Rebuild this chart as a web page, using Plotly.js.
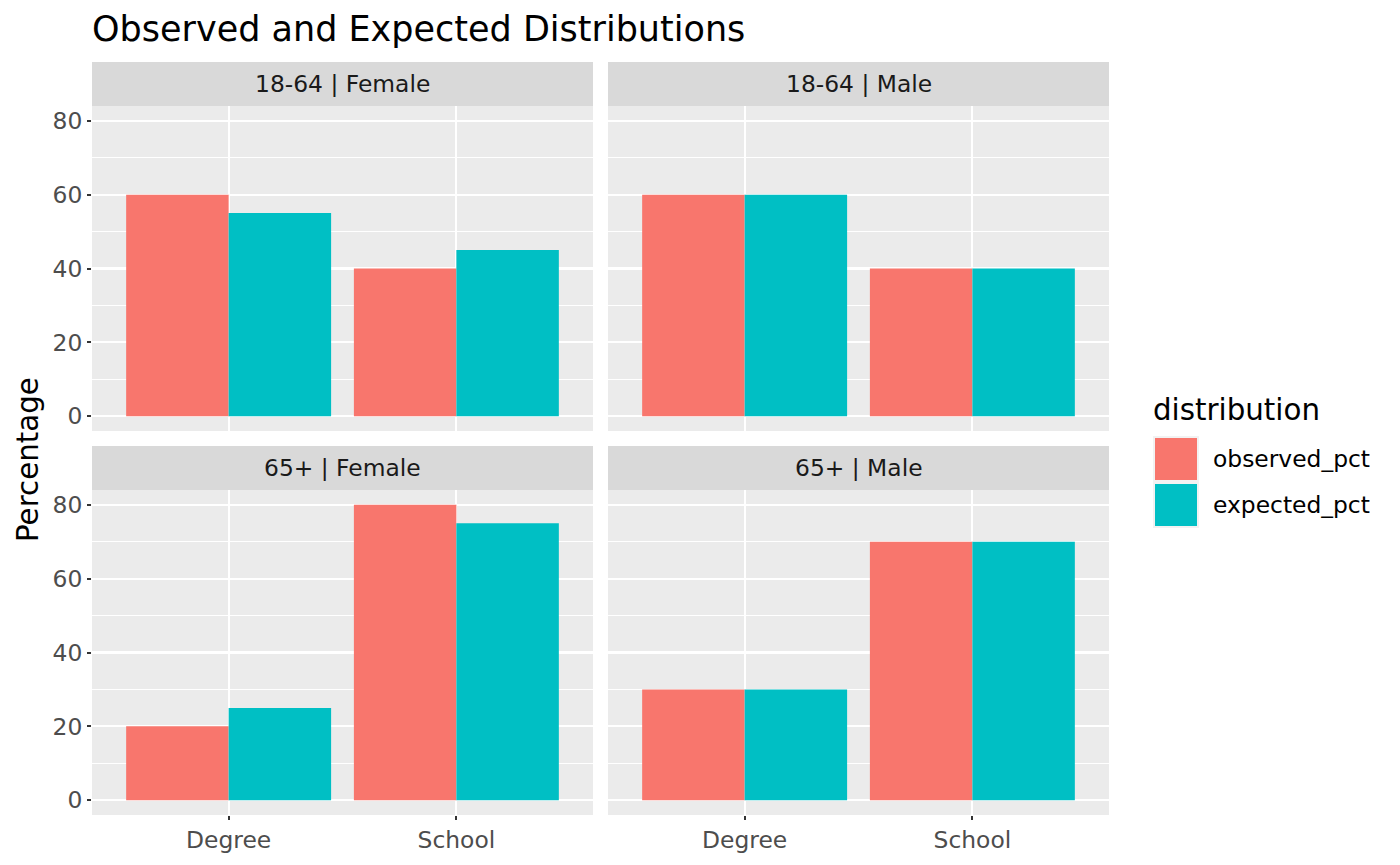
<!DOCTYPE html>
<html>
<head>
<meta charset="utf-8">
<script src="https://cdn.plot.ly/plotly-3.0.1.min.js"></script>
<style>
  html, body { margin: 0; padding: 0; background: #fff; }
  #chart { width: 1400px; height: 865px; }
</style>
</head>
<body>
<div id="chart"></div>
<script>
var categories = ['Degree', 'School'];
var facetAge = ['18-64', '18-64', '65+', '65+'];
var facetSex = ['Female', 'Male', 'Female', 'Male'];
var observedPct = [[60, 40], [60, 40], [20, 80], [30, 70]];
var expectedPct = [[55, 45], [60, 40], [25, 75], [30, 70]];
var seriesNames = ['observed_pct', 'expected_pct'];
var seriesColors = ['#F8766D', '#00BFC4'];

var W = 1400, H = 865;
function px(x) { return x / W; }
function py(y) { return 1 - y / H; }

// panel boxes in pixels
var colX = [[92, 593], [608, 1109]];
var rowY = [[106, 431], [490, 815]];
var stripH = 44;
var font = 'DejaVu Sans, sans-serif';
var smallSize = 23.4, midSize = 29.3;

var traces = [];
var layout = {
  width: W, height: H,
  margin: {l: 0, r: 0, t: 0, b: 0},
  paper_bgcolor: '#FFFFFF',
  plot_bgcolor: '#EBEBEB',
  barmode: 'group',
  bargap: 0.1,
  bargroupgap: 0,
  showlegend: false,
  font: {family: font, color: '#1A1A1A'},
  title: {
    text: 'Observed and Expected Distributions',
    x: px(92), xref: 'paper', xanchor: 'left',
    y: py(29), yref: 'paper', yanchor: 'middle',
    font: {size: 35, color: '#000000', family: font}
  },
  shapes: [],
  annotations: []
};

for (var i = 0; i < 4; i++) {
  var col = i % 2, row = Math.floor(i / 2);
  var sfx = i === 0 ? '' : String(i + 1);
  var xa = 'x' + sfx, ya = 'y' + sfx;

  var series = [observedPct[i], expectedPct[i]];
  for (var s = 0; s < 2; s++) {
    traces.push({
      type: 'bar',
      x: categories,
      y: series[s],
      name: seriesNames[s],
      marker: {color: seriesColors[s], line: {width: 0}},
      xaxis: xa, yaxis: ya,
      hoverinfo: 'skip'
    });
  }

  layout['xaxis' + sfx] = {
    domain: [px(colX[col][0]), px(colX[col][1])],
    anchor: ya,
    type: 'category',
    range: [-0.6, 1.6],
    showgrid: true, gridcolor: '#FFFFFF', gridwidth: 2.2,
    zeroline: false, showline: false,
    ticks: row === 1 ? 'outside' : '',
    ticklen: 4, tickwidth: 2, tickcolor: '#333333',
    showticklabels: row === 1,
    tickfont: {size: smallSize, color: '#4D4D4D', family: font},
    fixedrange: true
  };
  layout['yaxis' + sfx] = {
    domain: [py(rowY[row][1]), py(rowY[row][0])],
    anchor: xa,
    range: [-4, 84],
    tick0: 0, dtick: 20,
    showgrid: true, gridcolor: '#FFFFFF', gridwidth: 2.2,
    minor: {dtick: 10, tick0: 0, showgrid: true, gridcolor: '#FFFFFF', gridwidth: 1.1, ticks: ''},
    zeroline: false, showline: false,
    ticks: col === 0 ? 'outside' : '',
    ticklen: 4, tickwidth: 2, tickcolor: '#333333',
    showticklabels: col === 0,
    tickfont: {size: smallSize, color: '#4D4D4D', family: font},
    fixedrange: true
  };

  // facet strip
  layout.shapes.push({
    type: 'rect', xref: 'paper', yref: 'paper', layer: 'below',
    x0: px(colX[col][0]), x1: px(colX[col][1]),
    y0: py(rowY[row][0]), y1: py(rowY[row][0] - stripH),
    fillcolor: '#D9D9D9', line: {width: 0}
  });
  layout.annotations.push({
    xref: 'paper', yref: 'paper',
    x: px((colX[col][0] + colX[col][1]) / 2),
    y: py(rowY[row][0] - stripH / 2),
    xanchor: 'center', yanchor: 'middle', showarrow: false,
    text: facetAge[i] + ' | ' + facetSex[i],
    font: {size: smallSize, color: '#1A1A1A', family: font}
  });
}

// y axis title
layout.annotations.push({
  xref: 'paper', yref: 'paper', x: px(28), y: py(460),
  xanchor: 'center', yanchor: 'middle', showarrow: false,
  text: 'Percentage', textangle: -90,
  font: {size: midSize, color: '#000000', family: font}
});

// legend (ggplot style keys)
layout.annotations.push({
  xref: 'paper', yref: 'paper', x: px(1151), y: py(410),
  xanchor: 'left', yanchor: 'middle', showarrow: false,
  text: 'distribution',
  font: {size: midSize, color: '#000000', family: font}
});
for (var k = 0; k < seriesNames.length; k++) {
  var keyTop = 436 + k * 46;
  layout.shapes.push({
    type: 'rect', xref: 'paper', yref: 'paper',
    x0: px(1153), x1: px(1199), y0: py(keyTop + 46), y1: py(keyTop),
    fillcolor: '#F2F2F2', line: {width: 0}
  });
  layout.shapes.push({
    type: 'rect', xref: 'paper', yref: 'paper',
    x0: px(1155), x1: px(1197), y0: py(keyTop + 44), y1: py(keyTop + 2),
    fillcolor: seriesColors[k], line: {width: 0}
  });
  layout.annotations.push({
    xref: 'paper', yref: 'paper', x: px(1211), y: py(keyTop + 23),
    xanchor: 'left', yanchor: 'middle', showarrow: false,
    text: seriesNames[k],
    font: {size: smallSize, color: '#000000', family: font}
  });
}

Plotly.newPlot('chart', traces, layout, {displayModeBar: false, staticPlot: true});
</script>
</body>
</html>
